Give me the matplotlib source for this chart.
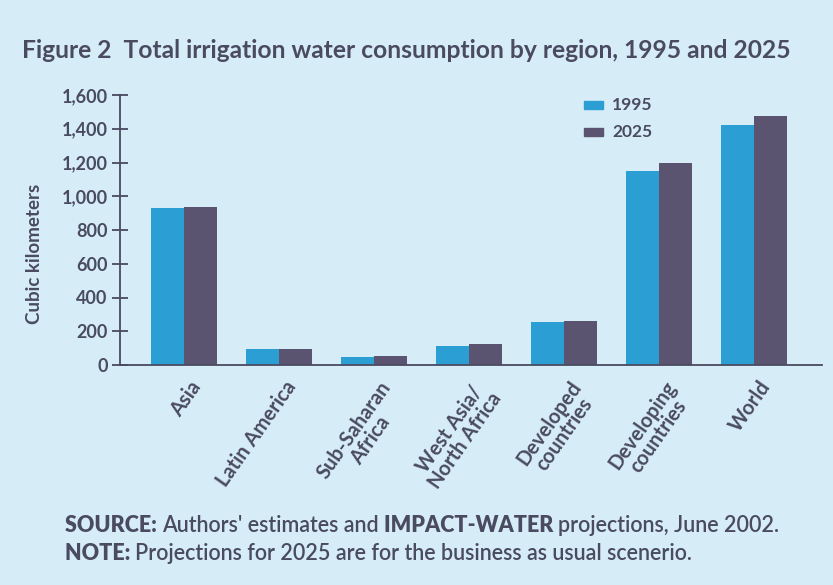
import numpy as np
import matplotlib
matplotlib.use("Agg")
import matplotlib.pyplot as plt
from matplotlib.patches import Rectangle

# data ------------------------------------------
regions = ["Asia", "Latin America", "Sub-Saharan\nAfrica", "West Asia/\nNorth Africa",
           "Developed\ncountries", "Developing\ncountries", "World"]
vals_1995 = [930, 93, 50, 112, 255, 1150, 1420]
vals_2025 = [935, 93, 56, 125, 262, 1200, 1475]
years = ["1995", "2025"]
yticks = [0, 200, 400, 600, 800, 1000, 1200, 1400, 1600]

# style -----------------------------------------
bg = "#d6edf7"
c95 = "#2b9ed3"
c25 = "#5b5471"
txt = "#4a4b60"
plt.rcParams["font.family"] = ["Lato", "DejaVu Sans"]

W, H = 833, 585
fig = plt.figure(figsize=(W / 100, H / 100), dpi=100, facecolor=bg)
ax = fig.add_axes([120 / W, 1 - 365 / H, 702 / W, 270 / H])
ax.set_facecolor(bg)

x = np.arange(len(regions))
bw = 0.35
ax.bar(x - bw / 2, vals_1995, bw, color=c95, zorder=2)
ax.bar(x + bw / 2, vals_2025, bw, color=c25, zorder=2)

ax.set_xlim(-0.674, 6.716)
ax.set_ylim(0, 1600)
ax.set_yticks(yticks)
ax.set_yticklabels([f"{v:,}" for v in yticks], fontsize=13, fontweight="bold", color=txt)
ax.tick_params(axis="y", direction="inout", length=12, width=1.3, color=txt, pad=3)
ax.set_xticks(x + 0.05)
ax.set_xticklabels(regions, rotation=55, ha="right", va="top", rotation_mode="anchor",
                   multialignment="center", fontsize=14.5, fontweight="bold", color=txt,
                   linespacing=0.95)
ax.tick_params(axis="x", length=0, pad=9)
for s in ("top", "right"):
    ax.spines[s].set_visible(False)
for s in ("left", "bottom"):
    ax.spines[s].set_color(txt)
    ax.spines[s].set_linewidth(1.3)

ax.set_ylabel("Cubic kilometers", fontsize=13.5, fontweight="bold", color=txt)
ax.yaxis.set_label_coords(-0.11, 0.41)

# legend drawn by hand in figure pixels
for i, (yr, col) in enumerate(zip(years, [c95, c25])):
    yc = H - (105 + 27 * i)
    fig.patches.append(Rectangle((584 / W, (yc - 4) / H), 19 / W, 8 / H,
                                 transform=fig.transFigure, color=col))
    fig.text(612 / W, yc / H, yr, fontsize=12.5, fontweight="bold", color=txt, va="center")

fig.text(22 / W, 1 - 50 / H,
         "Figure 2  Total irrigation water consumption by region, 1995 and 2025",
         fontsize=17.7, fontweight="bold", color=txt, va="center")

# footer with mixed weights
fig.canvas.draw()
rend = fig.canvas.get_renderer()


def rich_line(x0, y0, parts):
    xp = x0
    for s, w in parts:
        t = fig.text(xp / W, y0 / H, s, fontsize=15.5, fontweight=w, color=txt, va="center")
        xp = t.get_window_extent(rend).x1


rich_line(65, H - 525, [("SOURCE: ", "heavy"), ("Authors' estimates and ", "semibold"),
                        ("IMPACT-WATER ", "heavy"), ("projections, June 2002.", "semibold")])
rich_line(65, H - 553, [("NOTE: ", "heavy"),
                        ("Projections for 2025 are for the business as usual scenerio.", "semibold")])

fig.savefig("out.png", dpi=100, facecolor=bg)
